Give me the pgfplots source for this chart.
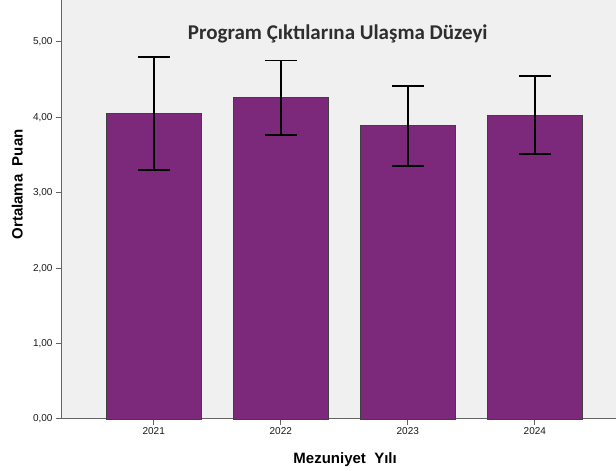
\documentclass[border=0pt]{standalone}
\usepackage{pgfplots}
\pgfplotsset{compat=1.18}
\usepackage{fontspec}
\setmainfont{Liberation Sans}
\newfontfamily\titlefont{Carlito}
\usetikzlibrary{calc}
\definecolor{barpurple}{RGB}{124,41,124}
\definecolor{plotbg}{RGB}{240,240,240}
\definecolor{axisgray}{RGB}{100,100,100}
\pgfplotstableread{
x  y     e
0  4.054 0.75
1  4.26  0.495
2  3.89  0.53
3  4.03  0.52
}\datatable
\begin{document}
\begin{tikzpicture}[x=1pt,y=1pt]
\begin{axis}[
  scale only axis,
  width=554pt, height=419pt,
  xmin=-0.722, xmax=3.639,
  ymin=0, ymax=5.557,
  axis background/.style={fill=plotbg},
  axis line style={axisgray, line width=1pt},
  xtick={0,1,2,3},
  xticklabels={2021,2022,2023,2024},
  ytick={0,1,2,3,4,5},
  tick align=outside,
  xtick pos=bottom, ytick pos=left,
  major tick length=6pt,
  tick style={axisgray, line width=1pt},
  /pgf/number format/assume math mode=true,
  yticklabel style={/pgf/number format/.cd, fixed, fixed zerofill, precision=2, use comma},
  ticklabel style={font=\fontsize{10}{12}\selectfont, text=black!90},
  xticklabel style={yshift=1pt},
  xlabel={\textbf{Mezuniyet\ \ Yılı}},
  ylabel={\textbf{Ortalama\ \ Puan}},
  label style={font=\fontsize{15}{17}\selectfont},
  xlabel style={at={(rel axis cs:0.511,0)}, anchor=base, yshift=-44.3pt},
  ylabel style={at={(rel axis cs:0,0.56)}, anchor=base, yshift=39.3pt},
  clip=false,
]
\addplot[ybar, bar width=0.75, fill=barpurple, draw=black!75, line width=0.8pt,
  error bars/.cd, y dir=both, y explicit,
  error bar style={line width=1.8pt, black},
  error mark options={rotate=90, mark size=16pt, line width=1.8pt, black}]
  table[x=x, y=y, y error=e] {\datatable};
\node[font=\titlefont\bfseries\fontsize{21}{24}\selectfont, text=black!82, anchor=base] at (axis cs:1.449,5.027) {Program Çıktılarına Ulaşma Düzeyi};
\end{axis}
\pgfresetboundingbox
\path[use as bounding box] ($(current axis.south west)+(-62pt,-52pt)$) rectangle (current axis.north east);
\end{tikzpicture}
\end{document}
